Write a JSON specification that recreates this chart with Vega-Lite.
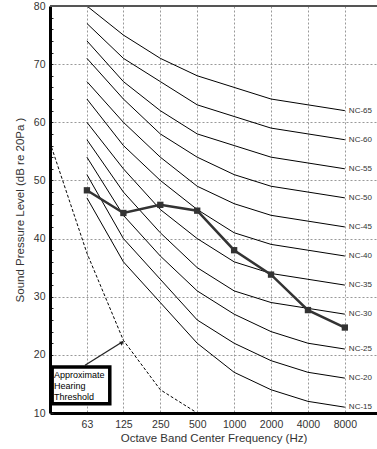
{
  "$schema": "https://vega.github.io/schema/vega-lite/v6.json",
  "width": 327,
  "height": 407,
  "autosize": {"type": "none"},
  "padding": {"left": 50, "top": 6, "right": 0, "bottom": 36},
  "background": "white",
  "config": {
    "view": {"stroke": null},
    "font": "Liberation Sans",
    "axis": {
      "labelFont": "Liberation Sans", "titleFont": "Liberation Sans", "titleFontWeight": "normal",
      "labelFontSize": 10.5, "labelColor": "#333", "labelOverlap": false, "labelFlush": false,
      "grid": true, "gridColor": "#999", "gridDash": [2, 2], "gridWidth": 1,
      "domainColor": "black", "domainWidth": 3,
      "titleFontSize": 11.5, "titleColor": "#333"
    },
    "axisX": {"ticks": false, "labelPadding": 6, "titlePadding": 3},
    "axisY": {"tickSize": -3, "tickColor": "#222", "tickWidth": 1, "labelPadding": 8, "titlePadding": 8}
  },
  "datasets": {
    "nc": [
      {"nc": "NC-15", "f": 63, "db": 47}, {"nc": "NC-15", "f": 125, "db": 36}, {"nc": "NC-15", "f": 250, "db": 29}, {"nc": "NC-15", "f": 500, "db": 22}, {"nc": "NC-15", "f": 1000, "db": 17}, {"nc": "NC-15", "f": 2000, "db": 14}, {"nc": "NC-15", "f": 4000, "db": 12}, {"nc": "NC-15", "f": 8000, "db": 11},
      {"nc": "NC-20", "f": 63, "db": 51}, {"nc": "NC-20", "f": 125, "db": 40}, {"nc": "NC-20", "f": 250, "db": 33}, {"nc": "NC-20", "f": 500, "db": 26}, {"nc": "NC-20", "f": 1000, "db": 22}, {"nc": "NC-20", "f": 2000, "db": 19}, {"nc": "NC-20", "f": 4000, "db": 17}, {"nc": "NC-20", "f": 8000, "db": 16},
      {"nc": "NC-25", "f": 63, "db": 54}, {"nc": "NC-25", "f": 125, "db": 44}, {"nc": "NC-25", "f": 250, "db": 37}, {"nc": "NC-25", "f": 500, "db": 31}, {"nc": "NC-25", "f": 1000, "db": 27}, {"nc": "NC-25", "f": 2000, "db": 24}, {"nc": "NC-25", "f": 4000, "db": 22}, {"nc": "NC-25", "f": 8000, "db": 21},
      {"nc": "NC-30", "f": 63, "db": 57}, {"nc": "NC-30", "f": 125, "db": 48}, {"nc": "NC-30", "f": 250, "db": 41}, {"nc": "NC-30", "f": 500, "db": 35}, {"nc": "NC-30", "f": 1000, "db": 31}, {"nc": "NC-30", "f": 2000, "db": 29}, {"nc": "NC-30", "f": 4000, "db": 28}, {"nc": "NC-30", "f": 8000, "db": 27},
      {"nc": "NC-35", "f": 63, "db": 60}, {"nc": "NC-35", "f": 125, "db": 52}, {"nc": "NC-35", "f": 250, "db": 45}, {"nc": "NC-35", "f": 500, "db": 40}, {"nc": "NC-35", "f": 1000, "db": 36}, {"nc": "NC-35", "f": 2000, "db": 34}, {"nc": "NC-35", "f": 4000, "db": 33}, {"nc": "NC-35", "f": 8000, "db": 32},
      {"nc": "NC-40", "f": 63, "db": 64}, {"nc": "NC-40", "f": 125, "db": 56}, {"nc": "NC-40", "f": 250, "db": 50}, {"nc": "NC-40", "f": 500, "db": 45}, {"nc": "NC-40", "f": 1000, "db": 41}, {"nc": "NC-40", "f": 2000, "db": 39}, {"nc": "NC-40", "f": 4000, "db": 38}, {"nc": "NC-40", "f": 8000, "db": 37},
      {"nc": "NC-45", "f": 63, "db": 67}, {"nc": "NC-45", "f": 125, "db": 60}, {"nc": "NC-45", "f": 250, "db": 54}, {"nc": "NC-45", "f": 500, "db": 49}, {"nc": "NC-45", "f": 1000, "db": 46}, {"nc": "NC-45", "f": 2000, "db": 44}, {"nc": "NC-45", "f": 4000, "db": 43}, {"nc": "NC-45", "f": 8000, "db": 42},
      {"nc": "NC-50", "f": 63, "db": 71}, {"nc": "NC-50", "f": 125, "db": 64}, {"nc": "NC-50", "f": 250, "db": 58}, {"nc": "NC-50", "f": 500, "db": 54}, {"nc": "NC-50", "f": 1000, "db": 51}, {"nc": "NC-50", "f": 2000, "db": 49}, {"nc": "NC-50", "f": 4000, "db": 48}, {"nc": "NC-50", "f": 8000, "db": 47},
      {"nc": "NC-55", "f": 63, "db": 74}, {"nc": "NC-55", "f": 125, "db": 67}, {"nc": "NC-55", "f": 250, "db": 62}, {"nc": "NC-55", "f": 500, "db": 58}, {"nc": "NC-55", "f": 1000, "db": 56}, {"nc": "NC-55", "f": 2000, "db": 54}, {"nc": "NC-55", "f": 4000, "db": 53}, {"nc": "NC-55", "f": 8000, "db": 52},
      {"nc": "NC-60", "f": 63, "db": 77}, {"nc": "NC-60", "f": 125, "db": 71}, {"nc": "NC-60", "f": 250, "db": 67}, {"nc": "NC-60", "f": 500, "db": 63}, {"nc": "NC-60", "f": 1000, "db": 61}, {"nc": "NC-60", "f": 2000, "db": 59}, {"nc": "NC-60", "f": 4000, "db": 58}, {"nc": "NC-60", "f": 8000, "db": 57},
      {"nc": "NC-65", "f": 63, "db": 80}, {"nc": "NC-65", "f": 125, "db": 75}, {"nc": "NC-65", "f": 250, "db": 71}, {"nc": "NC-65", "f": 500, "db": 68}, {"nc": "NC-65", "f": 1000, "db": 66}, {"nc": "NC-65", "f": 2000, "db": 64}, {"nc": "NC-65", "f": 4000, "db": 63}, {"nc": "NC-65", "f": 8000, "db": 62}
    ],
    "threshold": [
      {"f": 31.5, "db": 56.5}, {"f": 63, "db": 37.5}, {"f": 125, "db": 22.5}, {"f": 250, "db": 14}, {"f": 500, "db": 10}
    ],
    "measured": [
      {"f": 63, "db": 48.3}, {"f": 125, "db": 44.4}, {"f": 250, "db": 45.8}, {"f": 500, "db": 44.8}, {"f": 1000, "db": 38}, {"f": 2000, "db": 33.8}, {"f": 4000, "db": 27.7}, {"f": 8000, "db": 24.7}
    ]
  },
  "layer": [
    {
      "data": {"name": "nc"},
      "mark": {"type": "line", "color": "black", "strokeWidth": 1},
      "encoding": {
        "x": {"field": "f", "type": "quantitative", "title": "Octave Band Center Frequency (Hz)",
          "scale": {"type": "log", "domain": [31.5, 14630], "nice": false},
          "axis": {"values": [63, 125, 250, 500, 1000, 2000, 4000, 8000], "format": "d"}},
        "y": {"field": "db", "type": "quantitative", "title": "Sound Pressure Level (dB re 20Pa )",
          "scale": {"domain": [10, 80], "nice": false, "zero": false},
          "axis": {"values": [10, 12, 14, 16, 18, 20, 22, 24, 26, 28, 30, 32, 34, 36, 38, 40, 42, 44, 46, 48, 50, 52, 54, 56, 58, 60, 62, 64, 66, 68, 70, 72, 74, 76, 78, 80],
            "labelExpr": "datum.value % 10 === 0 ? datum.label : ''",
            "gridOpacity": {"condition": {"test": "datum.value % 10 === 0 && datum.value > 10 && datum.value < 80", "value": 1}, "value": 0}}},
        "detail": {"field": "nc", "type": "nominal"}
      }
    },
    {
      "data": {"values": [{}]},
      "mark": {"type": "rule", "color": "#555", "strokeWidth": 2},
      "encoding": {
        "y": {"datum": 80, "type": "quantitative", "title": "Sound Pressure Level (dB re 20Pa )",
          "scale": {"domain": [10, 80], "nice": false, "zero": false},
          "axis": {"values": [10, 12, 14, 16, 18, 20, 22, 24, 26, 28, 30, 32, 34, 36, 38, 40, 42, 44, 46, 48, 50, 52, 54, 56, 58, 60, 62, 64, 66, 68, 70, 72, 74, 76, 78, 80],
            "labelExpr": "datum.value % 10 === 0 ? datum.label : ''",
            "gridOpacity": {"condition": {"test": "datum.value % 10 === 0 && datum.value > 10 && datum.value < 80", "value": 1}, "value": 0}}}
      }
    },
    {
      "data": {"name": "nc"},
      "transform": [{"filter": "datum.f === 8000"}],
      "mark": {"type": "text", "align": "left", "baseline": "middle", "dx": 4, "fontSize": 8, "color": "#333", "font": "Liberation Sans"},
      "encoding": {
        "x": {"field": "f", "type": "quantitative", "title": "Octave Band Center Frequency (Hz)",
          "scale": {"type": "log", "domain": [31.5, 14630], "nice": false},
          "axis": {"values": [63, 125, 250, 500, 1000, 2000, 4000, 8000], "format": "d"}},
        "y": {"field": "db", "type": "quantitative", "title": "Sound Pressure Level (dB re 20Pa )",
          "scale": {"domain": [10, 80], "nice": false, "zero": false},
          "axis": {"values": [10, 12, 14, 16, 18, 20, 22, 24, 26, 28, 30, 32, 34, 36, 38, 40, 42, 44, 46, 48, 50, 52, 54, 56, 58, 60, 62, 64, 66, 68, 70, 72, 74, 76, 78, 80],
            "labelExpr": "datum.value % 10 === 0 ? datum.label : ''",
            "gridOpacity": {"condition": {"test": "datum.value % 10 === 0 && datum.value > 10 && datum.value < 80", "value": 1}, "value": 0}}},
        "text": {"field": "nc", "type": "nominal"}
      }
    },
    {
      "data": {"name": "threshold"},
      "mark": {"type": "line", "color": "black", "strokeWidth": 1, "strokeDash": [3, 2]},
      "encoding": {
        "x": {"field": "f", "type": "quantitative", "title": "Octave Band Center Frequency (Hz)",
          "scale": {"type": "log", "domain": [31.5, 14630], "nice": false},
          "axis": {"values": [63, 125, 250, 500, 1000, 2000, 4000, 8000], "format": "d"}},
        "y": {"field": "db", "type": "quantitative", "title": "Sound Pressure Level (dB re 20Pa )",
          "scale": {"domain": [10, 80], "nice": false, "zero": false},
          "axis": {"values": [10, 12, 14, 16, 18, 20, 22, 24, 26, 28, 30, 32, 34, 36, 38, 40, 42, 44, 46, 48, 50, 52, 54, 56, 58, 60, 62, 64, 66, 68, 70, 72, 74, 76, 78, 80],
            "labelExpr": "datum.value % 10 === 0 ? datum.label : ''",
            "gridOpacity": {"condition": {"test": "datum.value % 10 === 0 && datum.value > 10 && datum.value < 80", "value": 1}, "value": 0}}}
      }
    },
    {
      "data": {"name": "measured"},
      "mark": {"type": "line", "color": "#333", "strokeWidth": 2.5,
        "point": {"shape": "square", "filled": true, "color": "#333", "size": 40, "opacity": 1}},
      "encoding": {
        "x": {"field": "f", "type": "quantitative", "title": "Octave Band Center Frequency (Hz)",
          "scale": {"type": "log", "domain": [31.5, 14630], "nice": false},
          "axis": {"values": [63, 125, 250, 500, 1000, 2000, 4000, 8000], "format": "d"}},
        "y": {"field": "db", "type": "quantitative", "title": "Sound Pressure Level (dB re 20Pa )",
          "scale": {"domain": [10, 80], "nice": false, "zero": false},
          "axis": {"values": [10, 12, 14, 16, 18, 20, 22, 24, 26, 28, 30, 32, 34, 36, 38, 40, 42, 44, 46, 48, 50, 52, 54, 56, 58, 60, 62, 64, 66, 68, 70, 72, 74, 76, 78, 80],
            "labelExpr": "datum.value % 10 === 0 ? datum.label : ''",
            "gridOpacity": {"condition": {"test": "datum.value % 10 === 0 && datum.value > 10 && datum.value < 80", "value": 1}, "value": 0}}}
      }
    },
    {
      "data": {"values": [{}]},
      "mark": {"type": "rule", "color": "#222", "strokeWidth": 1.3},
      "encoding": {
        "x": {"datum": 60.8, "type": "quantitative", "title": "Octave Band Center Frequency (Hz)",
          "scale": {"type": "log", "domain": [31.5, 14630], "nice": false},
          "axis": {"values": [63, 125, 250, 500, 1000, 2000, 4000, 8000], "format": "d"}},
        "x2": {"datum": 124},
        "y": {"datum": 18.2, "type": "quantitative", "title": "Sound Pressure Level (dB re 20Pa )",
          "scale": {"domain": [10, 80], "nice": false, "zero": false},
          "axis": {"values": [10, 12, 14, 16, 18, 20, 22, 24, 26, 28, 30, 32, 34, 36, 38, 40, 42, 44, 46, 48, 50, 52, 54, 56, 58, 60, 62, 64, 66, 68, 70, 72, 74, 76, 78, 80],
            "labelExpr": "datum.value % 10 === 0 ? datum.label : ''",
            "gridOpacity": {"condition": {"test": "datum.value % 10 === 0 && datum.value > 10 && datum.value < 80", "value": 1}, "value": 0}}},
        "y2": {"datum": 22.3}
      }
    },
    {
      "data": {"values": [{}]},
      "mark": {"type": "point", "shape": "triangle-up", "filled": true, "color": "#222", "size": 22, "angle": 58, "opacity": 1},
      "encoding": {
        "x": {"datum": 122, "type": "quantitative", "title": "Octave Band Center Frequency (Hz)",
          "scale": {"type": "log", "domain": [31.5, 14630], "nice": false},
          "axis": {"values": [63, 125, 250, 500, 1000, 2000, 4000, 8000], "format": "d"}},
        "y": {"datum": 22.1, "type": "quantitative", "title": "Sound Pressure Level (dB re 20Pa )",
          "scale": {"domain": [10, 80], "nice": false, "zero": false},
          "axis": {"values": [10, 12, 14, 16, 18, 20, 22, 24, 26, 28, 30, 32, 34, 36, 38, 40, 42, 44, 46, 48, 50, 52, 54, 56, 58, 60, 62, 64, 66, 68, 70, 72, 74, 76, 78, 80],
            "labelExpr": "datum.value % 10 === 0 ? datum.label : ''",
            "gridOpacity": {"condition": {"test": "datum.value % 10 === 0 && datum.value > 10 && datum.value < 80", "value": 1}, "value": 0}}}
      }
    },
    {
      "data": {"values": [{}]},
      "mark": {"type": "rect", "fill": "white", "stroke": "black", "strokeWidth": 3.5},
      "encoding": {
        "x": {"datum": 32.8, "type": "quantitative", "title": "Octave Band Center Frequency (Hz)",
          "scale": {"type": "log", "domain": [31.5, 14630], "nice": false},
          "axis": {"values": [63, 125, 250, 500, 1000, 2000, 4000, 8000], "format": "d"}},
        "x2": {"datum": 96.8},
        "y": {"datum": 11.6, "type": "quantitative", "title": "Sound Pressure Level (dB re 20Pa )",
          "scale": {"domain": [10, 80], "nice": false, "zero": false},
          "axis": {"values": [10, 12, 14, 16, 18, 20, 22, 24, 26, 28, 30, 32, 34, 36, 38, 40, 42, 44, 46, 48, 50, 52, 54, 56, 58, 60, 62, 64, 66, 68, 70, 72, 74, 76, 78, 80],
            "labelExpr": "datum.value % 10 === 0 ? datum.label : ''",
            "gridOpacity": {"condition": {"test": "datum.value % 10 === 0 && datum.value > 10 && datum.value < 80", "value": 1}, "value": 0}}},
        "y2": {"datum": 17.9}
      }
    },
    {
      "data": {"values": [{}]},
      "mark": {"type": "text", "text": ["Approximate", "Hearing", "Threshold"], "align": "left", "baseline": "top", "fontSize": 9, "lineHeight": 11.3, "color": "black", "font": "Liberation Sans"},
      "encoding": {
        "x": {"datum": 33.9, "type": "quantitative", "title": "Octave Band Center Frequency (Hz)",
          "scale": {"type": "log", "domain": [31.5, 14630], "nice": false},
          "axis": {"values": [63, 125, 250, 500, 1000, 2000, 4000, 8000], "format": "d"}},
        "y": {"datum": 17.3, "type": "quantitative", "title": "Sound Pressure Level (dB re 20Pa )",
          "scale": {"domain": [10, 80], "nice": false, "zero": false},
          "axis": {"values": [10, 12, 14, 16, 18, 20, 22, 24, 26, 28, 30, 32, 34, 36, 38, 40, 42, 44, 46, 48, 50, 52, 54, 56, 58, 60, 62, 64, 66, 68, 70, 72, 74, 76, 78, 80],
            "labelExpr": "datum.value % 10 === 0 ? datum.label : ''",
            "gridOpacity": {"condition": {"test": "datum.value % 10 === 0 && datum.value > 10 && datum.value < 80", "value": 1}, "value": 0}}}
      }
    }
  ]
}
